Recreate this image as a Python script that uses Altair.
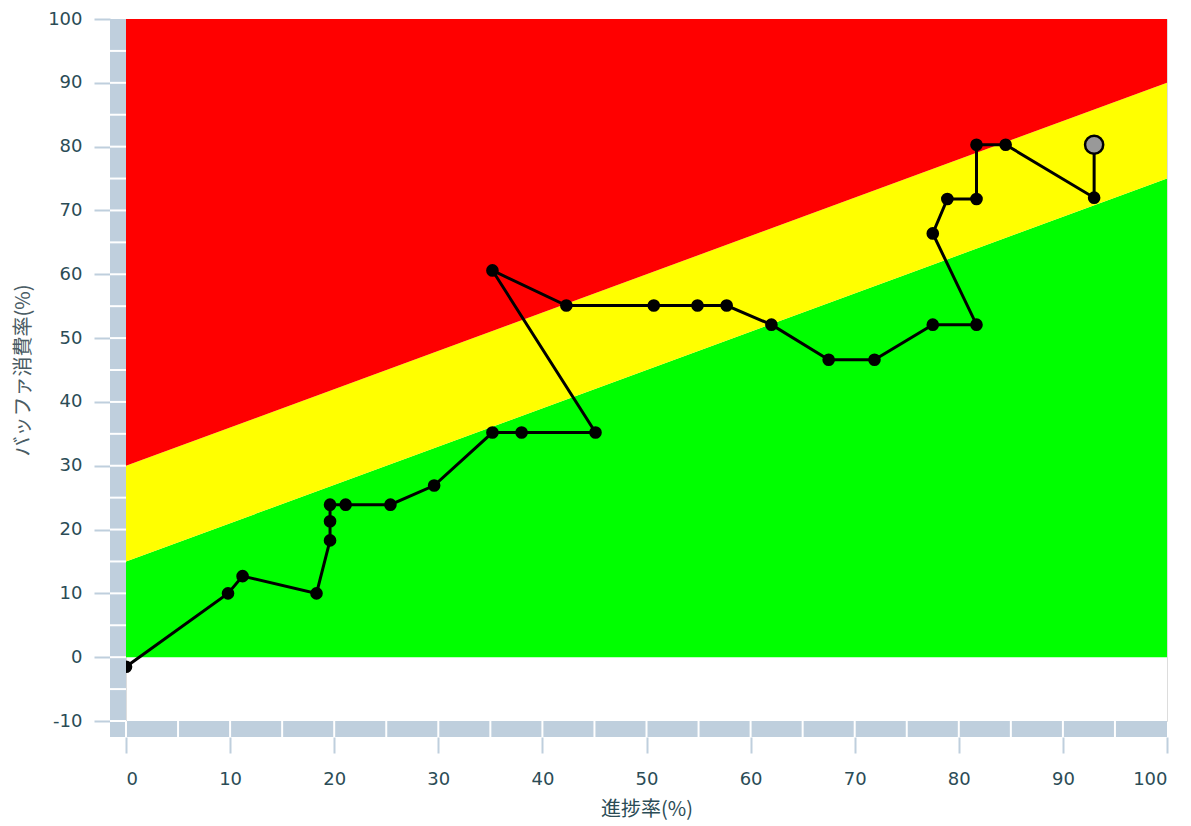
import altair as alt
import pandas as pd

# progress (x) and buffer consumption (y) readings, in drawing order
progress = [0.0, 9.8, 11.2, 18.3, 19.6, 19.6, 19.6, 21.1, 25.4, 29.6, 35.2, 38.0, 45.1,
            35.2, 42.3, 50.7, 54.9, 57.7, 62.0, 67.5, 71.9, 77.5, 81.7, 77.5, 78.9,
            81.7, 81.7, 84.5, 93.0, 93.0]
buffer = [-1.5, 10.0, 12.7, 10.0, 18.3, 21.3, 23.9, 23.9, 23.9, 26.9, 35.2, 35.2, 35.2,
          60.6, 55.1, 55.1, 55.1, 55.1, 52.1, 46.6, 46.6, 52.1, 52.1, 66.4, 71.8,
          71.8, 80.3, 80.3, 72.0, 80.3]

# zone boundaries at x = 0 and x = 100
zone_x = [0, 100]
green_top = [15, 75]
yellow_top = [30, 90]
red_top = [100, 100]
zone_names = ["green", "yellow", "red"]
zone_colors = ["#00ff00", "#ffff00", "#ff0000"]

x_ticks = [0, 10, 20, 30, 40, 50, 60, 70, 80, 90, 100]
y_ticks = [-10, 0, 10, 20, 30, 40, 50, 60, 70, 80, 90, 100]
x_minor = [0, 5, 10, 15, 20, 25, 30, 35, 40, 45, 50, 55, 60, 65, 70, 75, 80, 85, 90, 95]
y_minor = [-10, -5, 0, 5, 10, 15, 20, 25, 30, 35, 40, 45, 50, 55, 60, 65, 70, 75, 80, 85, 90, 95]

W, H = 1041, 702
WALL = 16
WALL_COLOR = "#bfcfdd"
LABEL_COLOR = "#2b4c56"

zones = []
for i, xv in enumerate(zone_x):
    zones.append({"zone": "green", "x": xv, "lo": 0, "hi": green_top[i]})
    zones.append({"zone": "yellow", "x": xv, "lo": green_top[i], "hi": yellow_top[i]})
    zones.append({"zone": "red", "x": xv, "lo": yellow_top[i], "hi": red_top[i]})
zones_df = pd.DataFrame(zones)

pts = pd.DataFrame({"x": progress, "y": buffer, "i": list(range(len(progress)))})
last = pts.iloc[[-1]]
body = pts.iloc[:-1]

xs = alt.Scale(domain=[0, 100], nice=False, zero=False)
ys = alt.Scale(domain=[-10, 100], nice=False, zero=False)

x_axis = alt.Axis(values=x_ticks, title="進捗率(%)", offset=WALL, tickSize=16,
                  tickColor=WALL_COLOR, tickWidth=2, domain=False, grid=False,
                  labelExpr="'' + datum.value",
                  labelFont="DejaVu Sans", labelFontSize=18, labelColor=LABEL_COLOR,
                  labelPadding=17, titleFont="Noto Sans CJK JP", titleFontSize=20,
                  titleFontWeight="normal", titleColor=LABEL_COLOR, titlePadding=11)
y_axis = alt.Axis(values=y_ticks, title="バッファ消費率(%)", offset=WALL, tickSize=16,
                  tickColor=WALL_COLOR, tickWidth=2, domain=False, grid=False,
                  labelExpr="'' + datum.value",
                  labelFont="DejaVu Sans", labelFontSize=18, labelColor=LABEL_COLOR,
                  labelPadding=12, titleFont="Noto Sans CJK JP", titleFontSize=20,
                  titleFontWeight="normal", titleColor="#4a5c64", titlePadding=14)

area = alt.Chart(zones_df).mark_area(opacity=1, line=False).encode(
    x=alt.X("x:Q", scale=xs, axis=x_axis),
    y=alt.Y("lo:Q", scale=ys, axis=y_axis, stack=None),
    y2="hi:Q",
    color=alt.Color("zone:N", scale=alt.Scale(domain=zone_names, range=zone_colors), legend=None),
)

line = alt.Chart(pts).mark_line(color="black", strokeWidth=3).encode(
    x=alt.X("x:Q", scale=xs), y=alt.Y("y:Q", scale=ys), order="i:Q")

dots = alt.Chart(body).mark_circle(color="black", opacity=1, size=160).encode(
    x=alt.X("x:Q", scale=xs), y=alt.Y("y:Q", scale=ys))

end = alt.Chart(last).mark_point(filled=True, fill="#999999", stroke="black",
                                 strokeWidth=2.5, opacity=1, size=330, shape="circle").encode(
    x=alt.X("x:Q", scale=xs), y=alt.Y("y:Q", scale=ys))

one = pd.DataFrame({"a": [0]})
left_wall = alt.Chart(one).mark_rect(color=WALL_COLOR).encode(
    x=alt.value(-WALL), x2=alt.value(0), y=alt.value(0), y2=alt.value(H + WALL))
bottom_wall = alt.Chart(one).mark_rect(color=WALL_COLOR).encode(
    x=alt.value(0), x2=alt.value(W), y=alt.value(H), y2=alt.value(H + WALL))

ysep = alt.Chart(pd.DataFrame({"v": y_minor})).mark_rule(color="white", strokeWidth=2).encode(
    y=alt.Y("v:Q", scale=ys), x=alt.value(-WALL), x2=alt.value(0))
xsep = alt.Chart(pd.DataFrame({"v": x_minor})).mark_rule(color="white", strokeWidth=2).encode(
    x=alt.X("v:Q", scale=xs), y=alt.value(H), y2=alt.value(H + WALL))

chart = alt.layer(area, line, dots, end, left_wall, bottom_wall, ysep, xsep).properties(
    width=W, height=H,
    autosize=alt.AutoSizeParams(type="none"),
    padding={"left": 118, "top": 11, "right": 16, "bottom": 104},
).configure_view(stroke=None).configure(background="white")

chart.save("out.html", embed_options={"renderer": "svg", "actions": False})
